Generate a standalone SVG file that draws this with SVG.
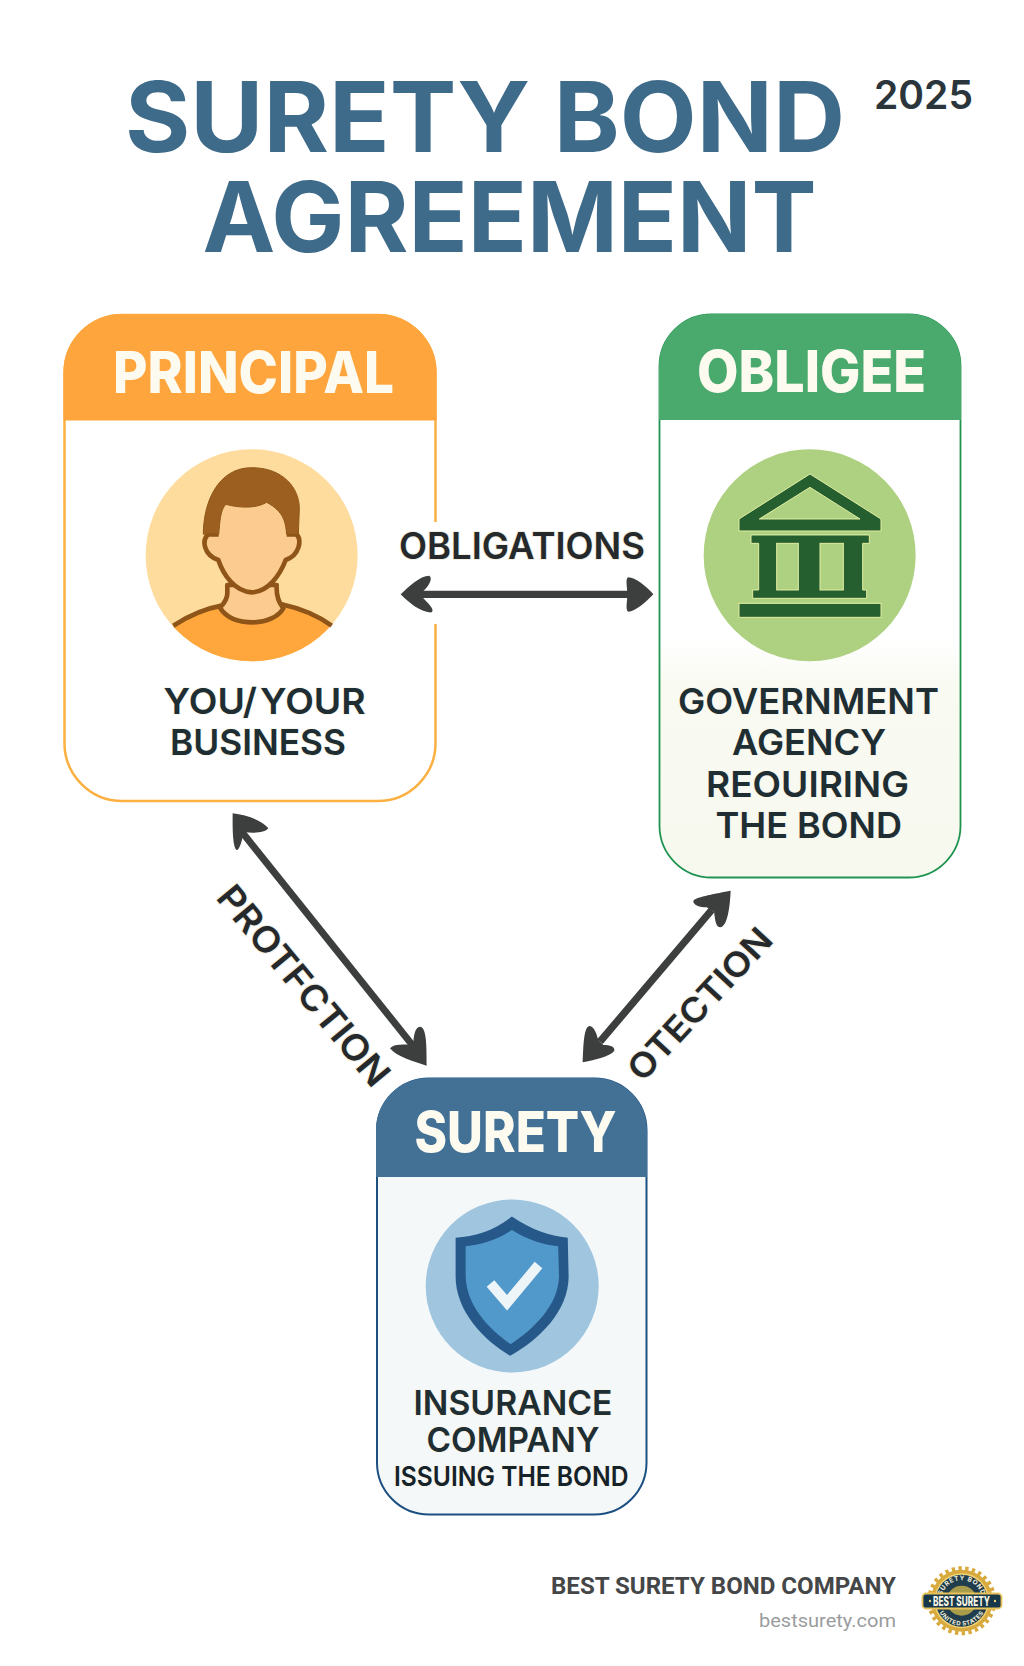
<svg xmlns="http://www.w3.org/2000/svg" width="1024" height="1666" viewBox="0 0 1024 1666">
<style>
text{font-family:"Inter","Liberation Sans",sans-serif}
.title{font-size:97px;font-weight:700;fill:#3f6b8a}
.head{font-size:58px;font-weight:800;fill:#fdfbf0}
.body{font-size:36px;font-weight:600;fill:#1f2e33;stroke:#f6f5ea;stroke-width:1.5;paint-order:stroke}
.lab{font-weight:600;fill:#25292b;stroke:#f0eee2;stroke-width:2;paint-order:stroke}
.arrow{fill:#3d3f3f}
.shaft{stroke:#3d3f3f;fill:none}
.foot{font-family:"Roboto","Liberation Sans",sans-serif}
.bank{fill:#255f2f;stroke:#e2eea2;stroke-width:3}
</style>
<defs>
<linearGradient id="gov" x1="0" y1="0" x2="0" y2="1"><stop offset="0.58" stop-color="#ffffff"/><stop offset="0.65" stop-color="#f9faf2"/><stop offset="1" stop-color="#f7f8ee"/></linearGradient>
<clipPath id="pc"><circle cx="335" cy="331" r="318"/></clipPath>
<path id="arcTop" d="M941.2 1600.7A20.5 20.5 0 0 1 982.2 1600.7"/>
<path id="arcBot" d="M936.7 1600.7A25 25 0 0 0 986.7 1600.7"/>
</defs>
<rect width="1024" height="1666" fill="#ffffff"/>
<g id="title">
<text class="title" x="125" y="152" textLength="720" lengthAdjust="spacingAndGlyphs">SURETY BOND</text>
<text class="title" x="202.500" y="252" textLength="614" lengthAdjust="spacingAndGlyphs">AGREEMENT</text>
<text x="874" y="109" font-size="40" font-weight="600" fill="#2b363c" textLength="99" lengthAdjust="spacingAndGlyphs">2025</text>
</g>
<g id="principal">
<rect x="64.500" y="315" width="371" height="486" rx="58" fill="#ffffff" stroke="#fbb041" stroke-width="2.500"/>
<path d="M63.500 420.500V372A58 58 0 0 1 121.500 314H378.500A58 58 0 0 1 436.500 372V420.500Z" fill="#ffa53d"/>
<text class="head" x="113" y="393" textLength="281" lengthAdjust="spacingAndGlyphs">PRINCIPAL</text>
<g transform="translate(140 445) scale(0.33333)">
<circle cx="335" cy="331" r="318" fill="#fddc9d"/>
<path clip-path="url(#pc)" d="M100 542C150 510 200 485 245 478L425 478C480 490 530 510 575 542L660 680H20Z" fill="#ffa63c"/>
<path d="M100 542C150 510 200 490 245 482M425 478C480 490 530 510 575 542" fill="none" stroke="#8f5518" stroke-width="14"/>
<path d="M262 420V445C262 465 250 478 240 488C260 520 300 532 340 532C380 532 415 515 430 490C420 475 408 460 410 420Z" fill="#fbcb8f" stroke="#8f5518" stroke-width="14" stroke-linejoin="round"/>
<path d="M236 268L205 268C185 285 190 330 235 345C250 390 285 440 335 442C385 440 420 390 437 345C480 330 485 285 470 268L440 268V170H236Z" fill="#fbcb8f"/>
<path d="M236 268L205 268C185 285 190 330 235 345C250 390 285 440 335 442C385 440 420 390 437 345C480 330 485 285 470 268L440 268" fill="none" stroke="#8f5518" stroke-width="14" stroke-linejoin="round"/>
<path d="M190 268C190 170 235 68 335 68C430 68 478 130 478 190L475 268L440 268C436 230 432 200 380 172C350 190 300 190 258 178C240 195 240 230 236 268L205 265Z" fill="#9c5f1f" stroke="#8f5518" stroke-width="3"/>
</g>
<text class="body" x="163.600" y="714" word-spacing="-6" textLength="202" lengthAdjust="spacingAndGlyphs">YOU/ YOUR</text>
<text class="body" x="170" y="755" textLength="176" lengthAdjust="spacingAndGlyphs">BUSINESS</text>
</g>
<g id="obligee">
<rect x="659.500" y="314.500" width="301" height="563" rx="52" fill="url(#gov)" stroke="#1f9450" stroke-width="1.800"/>
<path d="M659 420V366A52 52 0 0 1 711 314H909A52 52 0 0 1 961 366V420Z" fill="#4aa96c"/>
<text class="head" x="697" y="392" textLength="229" lengthAdjust="spacingAndGlyphs">OBLIGEE</text>
<g transform="translate(700 445) scale(0.33333)">
<circle cx="329" cy="331" r="318" fill="#aed181"/>
<path class="bank" d="M330 87L543 222V258H117V222Z"/>
<path d="M330 127L480 222H178Z" fill="#aed181" stroke="#e2eea2" stroke-width="3"/>
<path class="bank" d="M153 270H508V295H488V435H500V460H158V435H176V295H153Z"/>
<rect x="230" y="295" width="65" height="140" fill="#aed181" stroke="#e2eea2" stroke-width="3"/>
<rect x="360" y="295" width="70" height="140" fill="#aed181" stroke="#e2eea2" stroke-width="3"/>
<rect class="bank" x="117" y="475" width="426" height="42"/>
</g>
<text class="body" x="678" y="714" textLength="261" lengthAdjust="spacingAndGlyphs">GOVERNMENT</text>
<text class="body" x="732" y="755" textLength="154" lengthAdjust="spacingAndGlyphs">AGENCY</text>
<text class="body" x="706" y="797" textLength="203" lengthAdjust="spacingAndGlyphs">REOUIRING</text>
<text class="body" x="715.500" y="838" textLength="186.500" lengthAdjust="spacingAndGlyphs">THE BOND</text>
</g>
<g id="surety">
<rect x="377" y="1078.500" width="269.500" height="436" rx="52" fill="#f5f8f9" stroke="#1c4f82" stroke-width="2"/>
<path d="M376 1177V1130A52 52 0 0 1 428 1078H595A52 52 0 0 1 647 1130V1177Z" fill="#437196"/>
<text class="head" x="414.500" y="1152" style="font-size:56px" textLength="202" lengthAdjust="spacingAndGlyphs">SURETY</text>
<circle cx="512.200" cy="1286" r="86.500" fill="#a0c5df"/>
<g transform="translate(340 1060) scale(0.43630 0.38660)">
<path d="M394 405C350 445 310 455 265 460L265 560C265 650 330 725 390 765C455 725 524 650 524 560L522 460C480 455 440 440 394 405Z" fill="#26598a"/>
<path d="M394 440C360 465 325 478 288 482L288 560C290 635 340 695 391 735C445 695 500 635 502 560L500 482C465 478 430 465 394 440Z" fill="#5299cb"/>
</g>
<path d="M490.500 1283.400L507 1302.800L538.500 1265" fill="none" stroke="#eef5f9" stroke-width="10"/>
<text class="body" x="413.500" y="1415" style="font-size:34px" textLength="199" lengthAdjust="spacingAndGlyphs">INSURANCE</text>
<text class="body" x="426.500" y="1452" style="font-size:34px" textLength="173" lengthAdjust="spacingAndGlyphs">COMPANY</text>
<text class="body" x="394" y="1486" style="font-size:27px;fill:#15222a" textLength="234.500" lengthAdjust="spacingAndGlyphs">ISSUING THE BOND</text>
</g>
<g id="connectors">
<rect x="431" y="522" width="10" height="102" fill="#ffffff"/>
<g id="conn-obligations" transform="translate(390 515) scale(0.33333)">
<path class="shaft" d="M95 238H720" stroke-width="22"/>
<path class="arrow" d="M32 238C55 215 90 182 118 182C130 190 115 215 100 228V250C115 265 135 285 125 292C95 295 55 262 32 238Z"/>
<path class="arrow" d="M790 238C770 260 735 290 715 290C705 285 712 260 712 240C712 215 705 190 715 187C735 187 770 215 790 238Z"/>
</g>
<text class="lab" x="399" y="559" font-size="37" textLength="246" lengthAdjust="spacingAndGlyphs">OBLIGATIONS</text>
<g id="conn-protection" transform="translate(200 800) scale(0.33333)">
<path class="shaft" d="M125 95L645 745" stroke-width="21"/>
<path class="arrow" d="M98 40C140 45 185 60 205 85C195 98 165 100 135 97C125 110 125 140 112 150C100 150 97 100 98 40Z"/>
<path class="arrow" d="M680 797C640 785 590 770 570 745C585 730 610 735 640 733C640 710 645 680 660 680C680 680 680 740 680 797Z"/>
</g>
<text class="lab" transform="translate(304 985.500) rotate(50.500)" x="-124" y="13" font-size="36" textLength="248" lengthAdjust="spacingAndGlyphs">PROTFCTION</text>
<g id="conn-otection" transform="translate(560 870) scale(0.33333)">
<path class="shaft" d="M455 120L120 515" stroke-width="22"/>
<path class="arrow" d="M512 62C510 100 505 170 480 172C465 170 465 140 462 125L440 112C420 112 398 105 400 92C410 80 470 70 512 62Z"/>
<path class="arrow" d="M68 577C70 540 70 470 88 468C105 470 110 495 115 510L130 525C150 525 165 530 163 542C150 560 100 570 68 577Z"/>
</g>
<text class="lab" transform="translate(700 1004) rotate(-47)" x="-97" y="12" font-size="34" textLength="194" lengthAdjust="spacingAndGlyphs">OTECTION</text>
</g>
<g id="footer">
<text class="foot" x="551" y="1594" font-size="24" font-weight="700" fill="#444648" textLength="345" lengthAdjust="spacingAndGlyphs">BEST SURETY BOND COMPANY</text>
<text class="foot" x="759" y="1627" font-size="19" fill="#9a9c9e" textLength="137" lengthAdjust="spacingAndGlyphs">bestsurety.com</text>
</g>
<g id="badge">
<circle cx="961.700" cy="1600.700" r="31" fill="#d8a93c"/>
<circle cx="961.700" cy="1600.700" r="32.500" fill="none" stroke="#d8a93c" stroke-width="4" stroke-dasharray="3.400 3.400"/>
<circle cx="961.700" cy="1600.700" r="27.500" fill="#f0d277"/>
<circle cx="961.700" cy="1600.700" r="26" fill="#1f3d4d"/>
<circle cx="961.700" cy="1600.700" r="15" fill="#a89c4a"/>
<text font-size="6.500" font-weight="700" fill="#f4f1df" letter-spacing="0.600" text-anchor="middle"><textPath href="#arcTop" startOffset="50%">SURETY BOND</textPath></text>
<text font-size="6" font-weight="700" fill="#f4f1df" letter-spacing="0.500" text-anchor="middle"><textPath href="#arcBot" startOffset="50%">UNITED STATES</textPath></text>
<rect x="922.500" y="1593.500" width="79" height="15" rx="3.500" fill="#16384a" stroke="#e8c25a" stroke-width="1.800"/>
<circle cx="930" cy="1601" r="1.200" fill="#f0d277"/>
<circle cx="995" cy="1601" r="1.200" fill="#f0d277"/>
<text x="933" y="1606" font-size="13" font-weight="800" fill="#f6f4e6" textLength="57" lengthAdjust="spacingAndGlyphs">BEST SURETY</text>
</g>
</svg>
